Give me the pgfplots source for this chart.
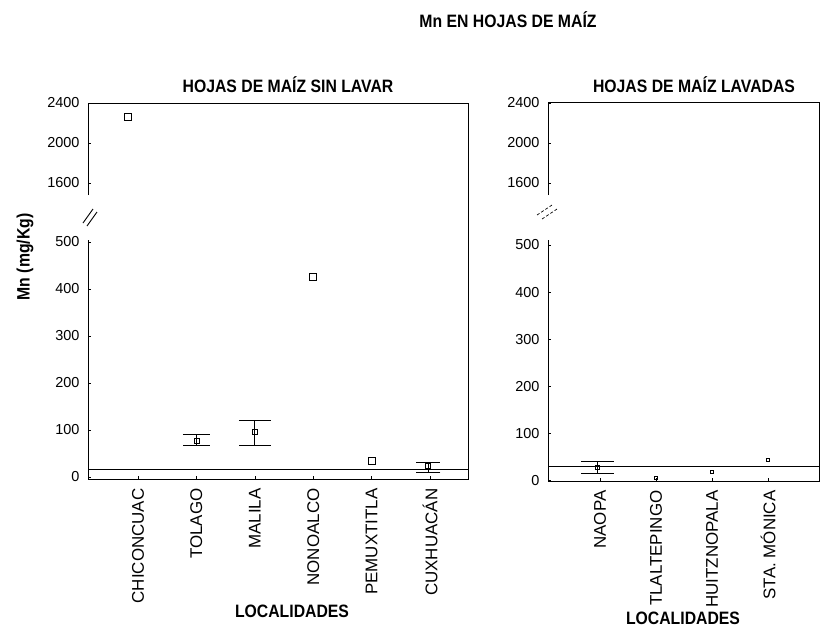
\documentclass[border=0pt]{standalone}
\usepackage{fontspec}
\setmainfont{Liberation Sans}
\newfontfamily\nar[FakeStretch=0.88]{Liberation Sans}
\usepackage{pgfplots}
\pgfplotsset{compat=1.18}
\newcommand{\ttl}{\nar\bfseries\fontsize{18}{18}\selectfont}
\newcommand{\tck}{\fontsize{14.5}{14.5}\selectfont}
\newcommand{\cat}{\fontsize{17}{17}\selectfont}
\pgfplotsset{
  brk/.style={scale only axis, axis line style={draw=none}, clip=false,
    /pgf/number format/assume math mode=true,
    /pgf/number format/1000 sep={},
    tick label style={font=\tck}, ytick pos=left, xtick pos=bottom,
    tick align=inside, major tick length=3bp,
    every tick/.style={black, line width=0.6bp},
    yticklabel shift=5bp, xticklabel shift=6bp},
}
\tikzset{fr/.style={black, line width=1bp}}
\begin{document}
\begin{tikzpicture}
\useasboundingbox (0,0) rectangle (821bp,-627bp);
% ---------- left panel: upper part
\begin{axis}[brk, at={(88bp,-103bp)}, anchor=north west, width=380bp, height=114bp,
  xmin=-0.856, xmax=5.65, ymin=1260, ymax=2400, xtick=\empty, ytick={1600,2000,2400}]
\addplot[only marks, mark=square, mark size=3.5bp, black, line width=0.8bp] coordinates {(-0.17,2260)};
\draw[fr] (rel axis cs:0,0.193) -- (rel axis cs:0,1) -- (rel axis cs:1,1) -- (rel axis cs:1,0);
\end{axis}
% ---------- left panel: lower part
\begin{axis}[brk, at={(88bp,-217bp)}, anchor=north west, width=380bp, height=262bp,
  xmin=-0.856, xmax=5.65, ymin=-4.26, ymax=553.2, ytick={0,100,...,500},
  xtick={0,...,5}, xticklabels={CHICONCUAC,TOLAGO,MALILA,NONOALCO,PEMUXTITLA,CUXHUAC\'AN},
  xticklabel style={rotate=90, anchor=east, font=\cat}]
\addplot[black, line width=0.9bp] coordinates {(-0.856,17) (5.65,17)};
\addplot[only marks, mark=square, mark size=3.5bp, black, line width=0.8bp] coordinates {(3,426) (4,34)};
\addplot[only marks, mark=square, mark size=2.5bp, black, line width=0.8bp,
  error bars/.cd, y dir=both, y explicit, error mark=-, error bar style={line width=0.8bp},
  error mark options={rotate=90, mark size=13.5bp, line width=1bp}]
  coordinates {(1,77) += (0,14) -= (0,11)};
\addplot[only marks, mark=square, mark size=2.5bp, black, line width=0.8bp,
  error bars/.cd, y dir=both, y explicit, error mark=-, error bar style={line width=0.8bp},
  error mark options={rotate=90, mark size=16bp, line width=1bp}]
  coordinates {(2,96) += (0,25) -= (0,30)};
\addplot[only marks, mark=square, mark size=2.5bp, black, line width=0.8bp,
  error bars/.cd, y dir=both, y explicit, error mark=-, error bar style={line width=0.8bp},
  error mark options={rotate=90, mark size=12bp, line width=1bp}]
  coordinates {(4.97,23) += (0,7) -= (0,14)};
\draw[fr] (rel axis cs:0,0.912) -- (rel axis cs:0,0) -- (rel axis cs:1,0) -- (rel axis cs:1,1);
\end{axis}
% ---------- right panel: upper part
\begin{axis}[brk, at={(548bp,-102bp)}, anchor=north west, width=271bp, height=115bp,
  xmin=-0.93, xmax=3.91, ymin=1260, ymax=2410, xtick=\empty, ytick={1600,2000,2400}]
\draw[fr] (rel axis cs:0,0.191) -- (rel axis cs:0,1) -- (rel axis cs:1,1) -- (rel axis cs:1,0);
\end{axis}
% ---------- right panel: lower part
\begin{axis}[brk, at={(548bp,-217bp)}, anchor=north west, width=271bp, height=264bp,
  xmin=-0.93, xmax=3.91, ymin=-2, ymax=559.6, ytick={0,100,...,500},
  xtick={0,...,3}, xticklabels={NAOPA,TLALTEPINGO,HUITZNOPALA,STA. M\'ONICA},
  xticklabel style={rotate=90, anchor=east, font=\cat}]
\addplot[black, line width=0.9bp] coordinates {(-0.93,28) (3.91,28)};
\addplot[only marks, mark=square, mark size=2bp, black, line width=0.7bp,
  error bars/.cd, y dir=both, y explicit, error mark=-, error bar style={line width=0.8bp},
  error mark options={rotate=90, mark size=16.5bp, line width=1bp}]
  coordinates {(-0.05,26) += (0,14) -= (0,11)};
\addplot[only marks, mark=square, mark size=1.5bp, black, line width=0.6bp] coordinates {(1,4) (2,17) (3,43)};
\draw[fr] (rel axis cs:0,0.912) -- (rel axis cs:0,0) -- (rel axis cs:1,0) -- (rel axis cs:1,1);
\end{axis}
% ---------- break marks
\draw[line width=0.9bp] (83bp,-223bp) -- (93bp,-209bp);
\draw[line width=0.9bp] (87bp,-226bp) -- (97bp,-212bp);
\draw[line width=0.7bp, dash pattern=on 3bp off 2bp] (537bp,-215bp) -- (552bp,-205bp);
\draw[line width=0.7bp, dash pattern=on 3bp off 2bp] (542bp,-219bp) -- (557bp,-209bp);
% ---------- titles and labels
\node[font=\ttl] at (508bp,-20bp) {Mn EN HOJAS DE MAÍZ};
\node[font=\ttl] at (288bp,-85bp) {HOJAS DE MAÍZ SIN LAVAR};
\node[font=\ttl] at (694bp,-85bp) {HOJAS DE MAÍZ LAVADAS};
\node[font=\ttl, rotate=90] at (25bp,-257bp) {Mn (mg/Kg)};
\node[font=\ttl] at (292bp,-611bp) {LOCALIDADES};
\node[font=\ttl] at (683bp,-618bp) {LOCALIDADES};
\end{tikzpicture}
\end{document}
